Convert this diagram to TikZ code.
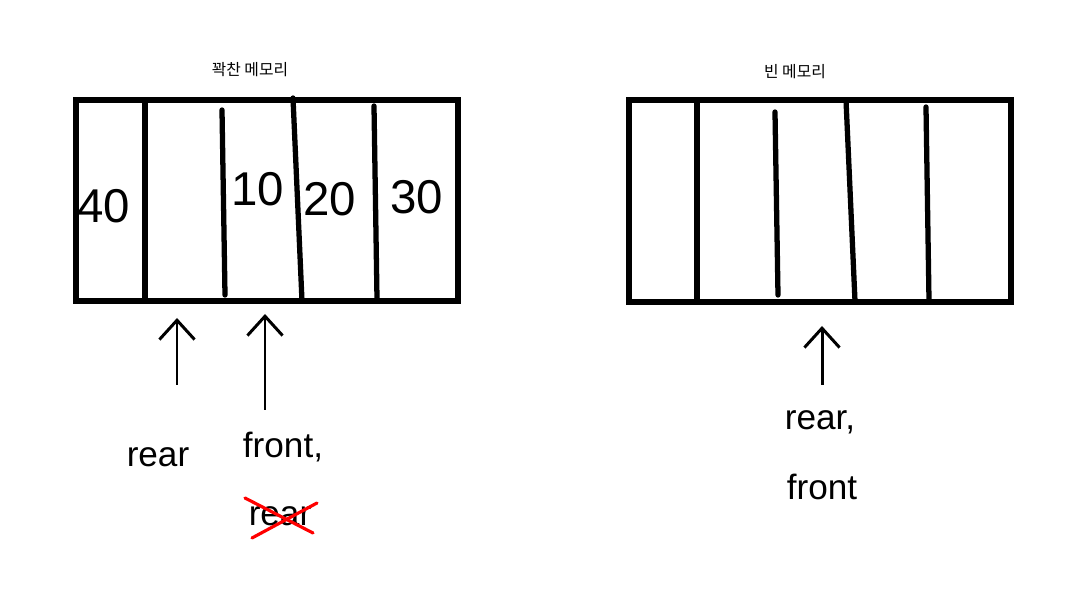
\documentclass[tikz,border=0pt]{standalone}
\usepackage{fontspec}
\setmainfont{Liberation Sans}
\newfontfamily\kor{Noto Sans CJK KR}
\usetikzlibrary{arrows.meta}

\begin{document}
\begin{tikzpicture}[x=0.02cm, y=-0.02cm,
    cell/.style={line width=3pt, line cap=round},
    ptr/.style={line width=1.7pt, -{Straight Barb[length=11pt, width=20pt, line width=1.7pt]}},
    num/.style={font=\fontsize{27}{30}\selectfont},
    lbl/.style={font=\fontsize{20}{24}\selectfont},
    ttl/.style={font=\kor\fontsize{9}{11}\selectfont}]
                \useasboundingbox (0,0) rectangle (1086,611);
                % Full memory
                \node[ttl] (fulltitle) at (250,70) {꽉찬 메모리};
                \draw[cell] (76,100) rectangle (458,301);
                \draw[cell] (145,100) -- (145,301);
                \draw[cell] (222,110) -- (225,295);
                \draw[cell] (293,98) -- (302,301);
                \draw[cell] (374,106) -- (377,299);
                \node[num] (v40) at (104,206) {40};
                \node[num] (v10) at (258,189) {10};
                \node[num] (v20) at (330,199) {20};
                \node[num] (v30) at (417,197) {30};
                % Pointers of full memory
                \coordinate (fullrear) at (177,318);
                \coordinate (fullfront) at (265,314);
                \node[lbl] (rearA) at (158,457) {rear};
                \node[lbl] (frontA) at (283,447) {front,};
                \node[lbl] (rearB) at (280,516) {rear};
                \draw[ptr] (177,385) -- (fullrear);
                \draw[ptr] (265,410) -- (fullfront);
                \draw[red, line width=1.8pt, line cap=round] (245,498) -- (313,533);
                \draw[red, line width=1.8pt, line cap=round] (317,503) -- (252,538);
                % Empty memory
                \node[ttl] (emptytitle) at (795,72) {빈 메모리};
                \draw[cell] (629,100) rectangle (1011,302);
                \draw[cell] (697,100) -- (697,302);
                \draw[cell] (775,112) -- (778,295);
                \draw[cell] (846,100) -- (855,301);
                \draw[cell] (926,107) -- (929,300);
                % Pointer of empty memory
                \coordinate (emptyboth) at (822,326);
                \node[lbl] (rearC) at (820,422) {rear,};
                \node[lbl] (frontC) at (822,487) {front};
                \draw[ptr] (822,385) -- (emptyboth);
\end{tikzpicture}
\end{document}
